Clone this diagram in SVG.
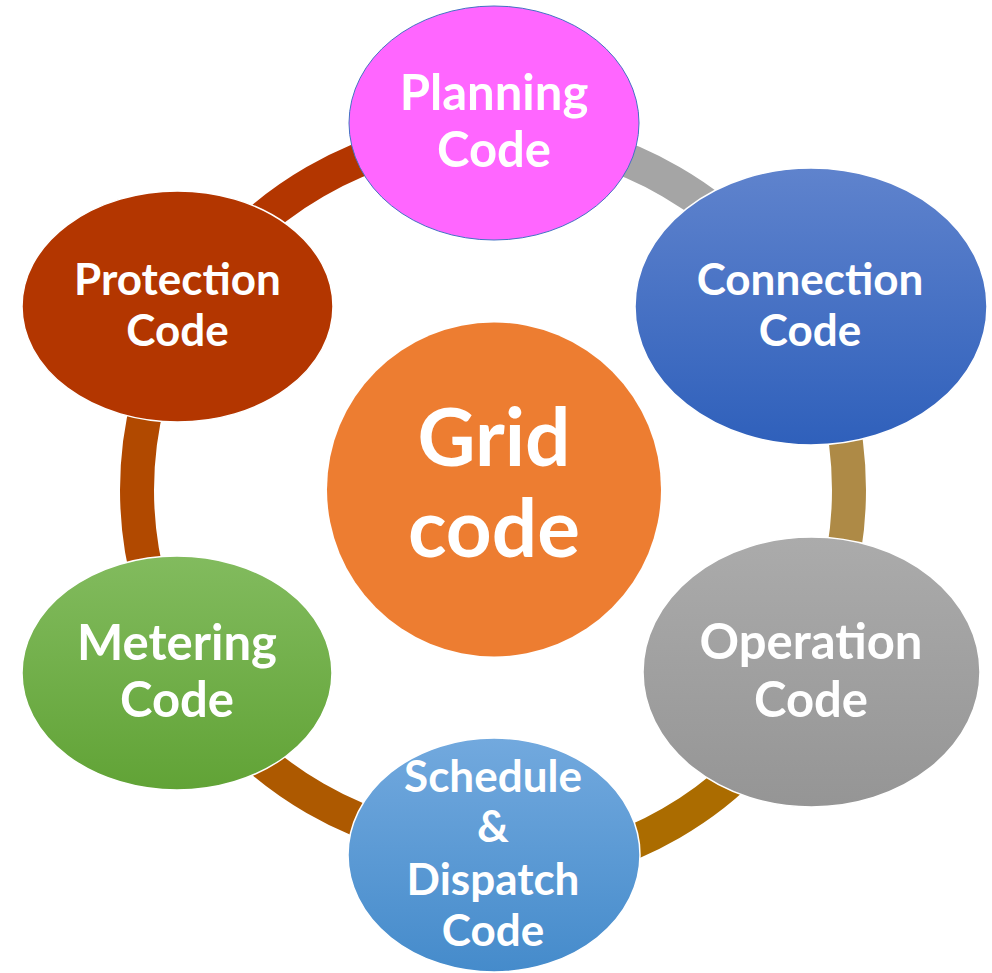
<svg xmlns="http://www.w3.org/2000/svg" width="992" height="973" viewBox="0 0 992 973">
<defs>
<linearGradient id="gConn" x1="0" y1="0" x2="0" y2="1"><stop offset="0" stop-color="#5f83cd"/><stop offset="1" stop-color="#2f60bb"/></linearGradient>
<linearGradient id="gOper" x1="0" y1="0" x2="0" y2="1"><stop offset="0" stop-color="#ababab"/><stop offset="1" stop-color="#959595"/></linearGradient>
<linearGradient id="gSched" x1="0" y1="0" x2="0" y2="1"><stop offset="0" stop-color="#72a9de"/><stop offset="1" stop-color="#458bcb"/></linearGradient>
<linearGradient id="gMeter" x1="0" y1="0" x2="0" y2="1"><stop offset="0" stop-color="#82bb5e"/><stop offset="1" stop-color="#61a336"/></linearGradient>
<style>
.arc{fill:none;stroke-width:34}
.lbl{font-family:Lato,"Open Sans","Liberation Sans",sans-serif;font-weight:bold;fill:#ffffff;text-anchor:middle}
.node{stroke:#ffffff;stroke-width:1.5}
</style>
</defs>
<g id="connectors">
<path class="arc" stroke="#b33600" d="M184.7,312 A356,356 0 0 1 493,134"/>
<path class="arc" stroke="#a5a5a5" d="M493,134 A356,356 0 0 1 801.3,312"/>
<path class="arc" stroke="#ae8a46" d="M801.3,312 A356,356 0 0 1 801.3,668"/>
<path class="arc" stroke="#ab6c00" d="M801.3,693 A356,356 0 0 1 493,871"/>
<path class="arc" stroke="#ad5900" d="M493,846 A356,356 0 0 1 184.7,668"/>
<path class="arc" stroke="#b14900" d="M184.7,668 A356,356 0 0 1 184.7,312"/>
</g>
<g id="protection">
<ellipse class="node" cx="177.5" cy="306.5" rx="155.5" ry="115.5" fill="#b33600"/>
<text class="lbl" x="177.5" y="295" font-size="44">Protection</text>
<text class="lbl" x="177.5" y="346" font-size="44">Code</text>
</g>
<g id="planning">
<ellipse cx="494" cy="123" rx="145" ry="117" fill="#ff66ff" stroke="#4472c4" stroke-width="1"/>
<text class="lbl" x="494" y="110" font-size="49">Planning</text>
<text class="lbl" x="494" y="167" font-size="49">Code</text>
</g>
<g id="connection">
<ellipse class="node" cx="811" cy="306.5" rx="176" ry="138.5" fill="url(#gConn)"/>
<text class="lbl" x="810" y="295" font-size="44">Connection</text>
<text class="lbl" x="810" y="346" font-size="44">Code</text>
</g>
<g id="operation">
<ellipse class="node" cx="811.5" cy="672" rx="168.5" ry="135" fill="url(#gOper)"/>
<text class="lbl" x="811" y="659" font-size="49">Operation</text>
<text class="lbl" x="811" y="717" font-size="49">Code</text>
</g>
<g id="schedule">
<ellipse class="node" cx="494" cy="855" rx="146" ry="117" fill="url(#gSched)"/>
<text class="lbl" x="493" y="792" font-size="44">Schedule</text>
<text class="lbl" x="493" y="842" font-size="44">&amp;</text>
<text class="lbl" x="493" y="895" font-size="44">Dispatch</text>
<text class="lbl" x="493" y="946" font-size="44">Code</text>
</g>
<g id="metering">
<ellipse class="node" cx="177" cy="673" rx="155" ry="117" fill="url(#gMeter)"/>
<text class="lbl" x="177" y="660" font-size="49">Metering</text>
<text class="lbl" x="177" y="717" font-size="49">Code</text>
</g>
<g id="grid">
<circle cx="494" cy="489.5" r="167" fill="#ed7d31"/>
<text class="lbl" x="494" y="466" font-size="80">Grid</text>
<text class="lbl" x="494" y="557" font-size="80">code</text>
</g>
</svg>
